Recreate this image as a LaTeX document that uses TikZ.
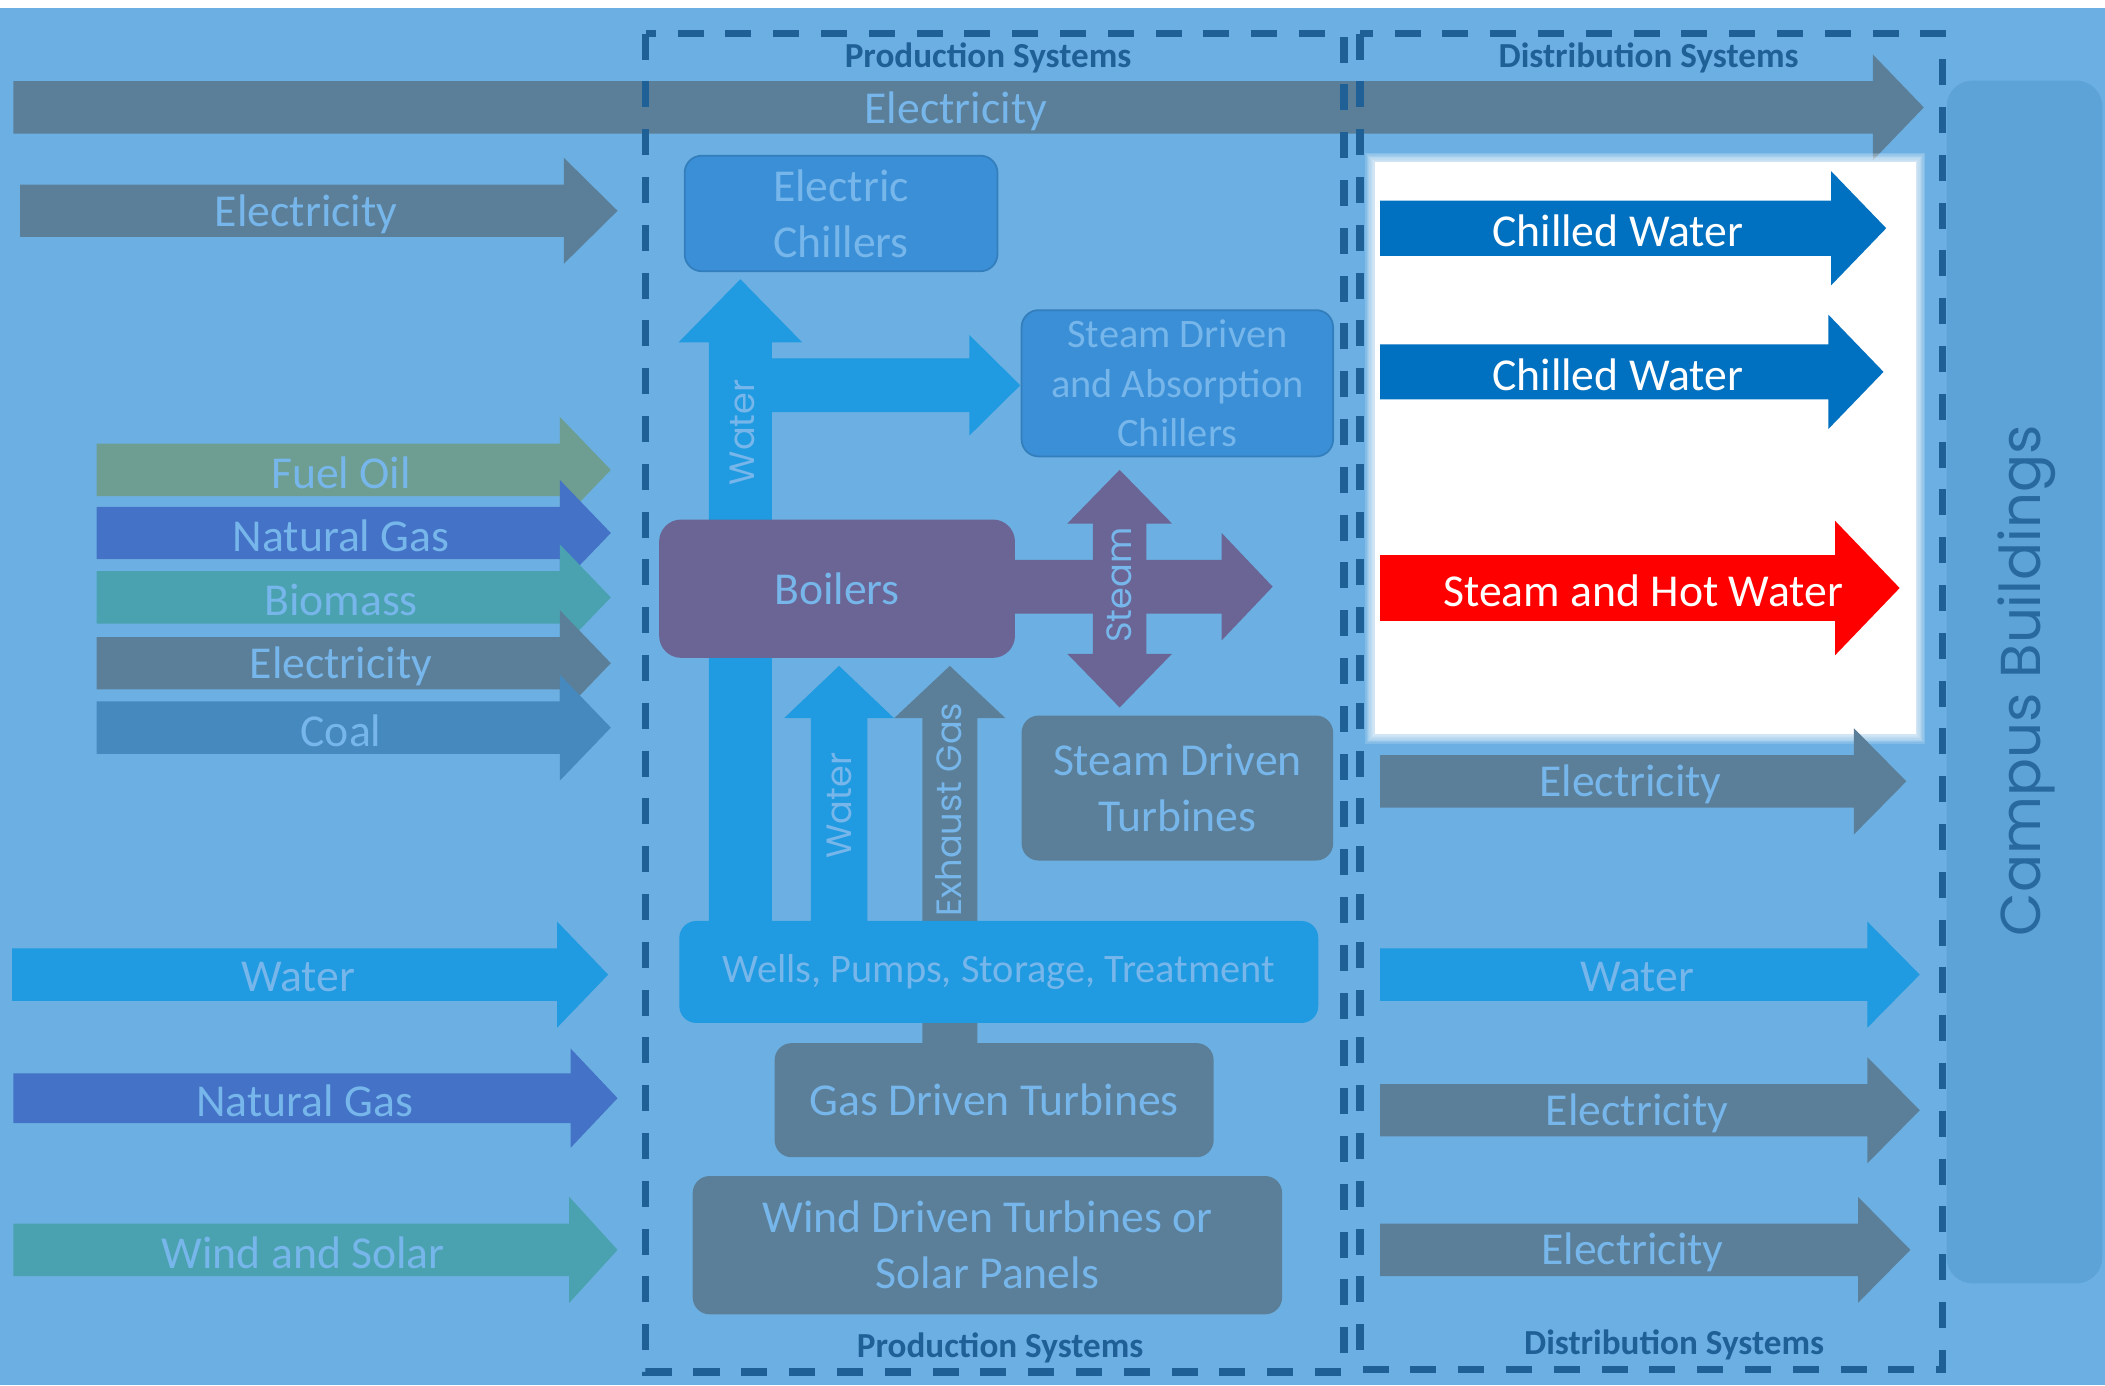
\documentclass[tikz,border=0pt]{standalone}
\usepackage{fontspec}
\setmainfont{Carlito}
\newfontfamily\roundfont{Poppins}

\definecolor{backblue}{RGB}{108,176,227}
\definecolor{framedark}{RGB}{31,96,150}
\definecolor{elecgrey}{RGB}{91,127,153}
\definecolor{waterblue}{RGB}{32,154,224}
\definecolor{chillblue}{RGB}{58,143,214}
\definecolor{steampurple}{RGB}{106,101,149}
\definecolor{oilgreen}{RGB}{110,158,145}
\definecolor{gasblue}{RGB}{67,114,198}
\definecolor{bioteal}{RGB}{74,162,176}
\definecolor{coalblue}{RGB}{69,137,191}
\definecolor{textblue}{RGB}{118,182,234}
\definecolor{campusblue}{RGB}{94,163,215}
\definecolor{campustext}{RGB}{40,106,160}
\definecolor{deliveryblue}{RGB}{0,112,192}
\definecolor{hotred}{RGB}{255,0,0}

\tikzset{%
    shaft half/.store in=\shafthalf,
    barb half/.store in=\barbhalf,
    barb len/.store in=\barblen,
    shaft half=19.5, barb half=39.5, barb len=38,
    flow/.pic={%
        \fill (0,-\shafthalf) -- ({#1-\barblen},-\shafthalf)
            -- ({#1-\barblen},-\barbhalf) -- (#1,0)
            -- ({#1-\barblen},\barbhalf) -- ({#1-\barblen},\shafthalf)
            -- (0,\shafthalf) -- cycle;
    },
    twoway/.pic={%
        \fill (0,0) -- (\barblen,-\barbhalf) -- (\barblen,-\shafthalf)
            -- ({#1-\barblen},-\shafthalf) -- ({#1-\barblen},-\barbhalf)
            -- (#1,0) -- ({#1-\barblen},\barbhalf) -- ({#1-\barblen},\shafthalf)
            -- (\barblen,\shafthalf) -- (\barblen,\barbhalf) -- cycle;
    },
    lbl/.style={text=textblue, inner sep=0pt, font=\fontsize{13}{16}\selectfont},
    whitelbl/.style={text=white, inner sep=0pt, font=\fontsize{13}{16}\selectfont},
    vlbl/.style={text=textblue, inner sep=0pt, rotate=90,
        font=\roundfont\fontsize{10}{12}\selectfont},
    box/.style={rounded corners=1.7mm, inner sep=0pt, align=center,
        text=textblue, font=\fontsize{13}{16}\selectfont},
    frame/.style={draw=framedark, line width=2.1pt, dash pattern=on 7.4pt off 6.2pt},
    framelbl/.style={text=framedark, inner sep=0pt, font=\bfseries\fontsize{10}{12}\selectfont}
}

\begin{document}
\begin{tikzpicture}[x=0.13425mm, y=-0.13425mm]

    \useasboundingbox (0,0) rectangle (1568,1032);
    \fill[white] (0,0) rectangle (1568,1032);
    \fill[backblue] (0,6) rectangle (1568,1032);

    % Buildings at the end of the line
    \fill[campusblue, rounded corners=2.6mm] (1450,60) rectangle (1566,956);
    \node[text=campustext, inner sep=0pt, rotate=90,
          font=\roundfont\fontsize{16}{18}\selectfont] (campus) at (1510,507)
        {Campus Buildings};

    % Electricity passing straight through
    \path (10,80) pic[fill=elecgrey] {flow=1423};
    \node[lbl] (elecpass) at (712,83) {Electricity};

    % Highlighted panel
    \foreach \g in {7,...,1}
        \fill[white, opacity=0.16] (1024-\g,121-\g) rectangle (1427+\g,547+\g);
    \fill[white] (1024,121) rectangle (1427,547);

    % Inputs on the left
    \path (15,157) pic[fill=elecgrey, barb len=40] {flow=445};
    \node[lbl] (elecin) at (228,160) {Electricity};

    \foreach \yy/\col/\txt [count=\i] in {350/oilgreen/Fuel Oil,
            397/gasblue/Natural Gas, 445/bioteal/Biomass,
            494/elecgrey/Electricity, 542/coalblue/Coal}{%
        \path (72,\yy) pic[fill=\col] {flow=383};
        \node[lbl] (fuel\i) at (254,\yy+2) {\txt};
    }

    \path (9,726) pic[fill=waterblue] {flow=444};
    \node[lbl] (waterin) at (222,728) {Water};
    \path (10,818) pic[fill=gasblue, shaft half=18.5, barb half=37, barb len=35] {flow=450};
    \node[lbl] (gasin) at (227,820) {Natural Gas};
    \path (10,931) pic[fill=bioteal, barb len=36] {flow=450};
    \node[lbl] (windin) at (226,933) {Wind and Solar};

    % Arrows inside the plant
    \path (551.5,686) pic[fill=waterblue, rotate=90, shaft half=23.5,
        barb half=46, barb len=47] {flow=478};
    \path (560,287) pic[fill=waterblue, shaft half=20, barb half=37.5,
        barb len=38] {flow=200};
    \path (625,686) pic[fill=waterblue, rotate=90, shaft half=21,
        barb half=41, barb len=39] {flow=190};
    \path (707.5,777) pic[fill=elecgrey, rotate=90, shaft half=20.5,
        barb half=41.5, barb len=39] {flow=281};
    \path (740,437) pic[fill=steampurple, shaft half=20, barb half=40,
        barb len=38] {flow=208};
    \path (834,527) pic[fill=steampurple, rotate=90, shaft half=20,
        barb half=39, barb len=40] {twoway=177};

    % Plant equipment
    \node[box, fill=chillblue, draw=chillblue!88!black, line width=0.5pt,
          minimum width=31.28mm, minimum height=11.55mm] (elchill) at (626.5,159)
        {Electric\\Chillers};
    \node[box, fill=chillblue, draw=chillblue!88!black, line width=0.5pt,
          font=\fontsize{11.5}{14}\selectfont,
          minimum width=31.15mm, minimum height=14.63mm] (abschill) at (877,285.5)
        {Steam Driven\\and Absorption\\Chillers};
    \node[box, fill=steampurple, rounded corners=2.2mm,
          minimum width=35.58mm, minimum height=13.83mm] (boilers) at (623.5,438.5)
        {Boilers};
    \node[box, fill=elecgrey, minimum width=31.15mm, minimum height=14.5mm]
        (steamturb) at (877,587) {Steam Driven\\Turbines};
    \node[box, fill=waterblue, font=\fontsize{11.5}{14}\selectfont,
          minimum width=63.9mm, minimum height=10.2mm] (wells) at (744,724)
        {Wells, Pumps, Storage, Treatment};
    \node[box, fill=elecgrey, minimum width=43.9mm, minimum height=11.41mm]
        (gasturb) at (740.5,819.5) {Gas Driven Turbines};
    \node[box, fill=elecgrey, minimum width=58.94mm, minimum height=13.83mm]
        (windturb) at (735.5,927.5) {Wind Driven Turbines or\\Solar Panels};

    \node[vlbl] (waterup) at (553,322) {Water};
    \node[vlbl] (steamlbl) at (834,436) {Steam};
    \node[vlbl] (waterboil) at (625,600) {Water};
    \node[vlbl] (exhaust) at (707,603) {Exhaust Gas};

    % Outputs on the right
    \path (1028,170) pic[fill=deliveryblue, shaft half=20.5, barb half=42.5,
        barb len=41] {flow=377};
    \node[whitelbl] (chilled1) at (1205,172) {Chilled Water};
    \path (1028,277) pic[fill=deliveryblue, shaft half=20.5, barb half=42.5,
        barb len=41] {flow=375};
    \node[whitelbl] (chilled2) at (1205,279) {Chilled Water};
    \path (1028,438) pic[fill=hotred, shaft half=24.5, barb half=50,
        barb len=48] {flow=387};
    \node[whitelbl] (hotwater) at (1224,440) {Steam and Hot Water};

    \foreach \yy/\len/\col/\txt [count=\i] in {582/392/elecgrey/Electricity,
            726/402/waterblue/Water, 827/402/elecgrey/Electricity,
            931/395/elecgrey/Electricity}{%
        \path (1028,\yy) pic[fill=\col, barb len=39] {flow=\len};
        \node[lbl] (out\i) at ({1028+(\len-19)/2},\yy+2) {\txt};
    }

    % System boundaries
    \draw[frame] (481,25) rectangle (1001,1022);
    \draw[frame] (1013,25) rectangle (1447,1020);
    \node[framelbl] (prodtop) at (736,43) {Production Systems};
    \node[framelbl] (prodbot) at (745,1004) {Production Systems};
    \node[framelbl] (disttop) at (1228,43) {Distribution Systems};
    \node[framelbl] (distbot) at (1247,1002) {Distribution Systems};

\end{tikzpicture}
\end{document}
